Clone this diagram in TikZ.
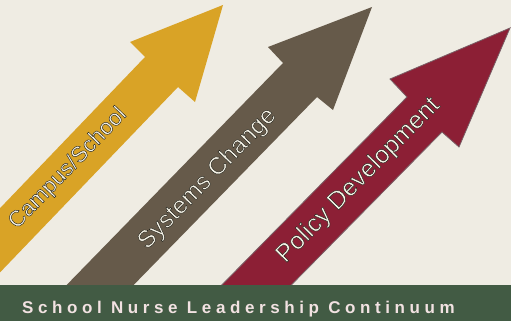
\documentclass[tikz,border=0pt]{standalone}
\usepackage{fontspec}
\setmainfont{Liberation Sans}
\newfontfamily\titlefont[LetterSpace=27]{Liberation Sans Bold}
\definecolor{bg}{HTML}{EFECE3}
\definecolor{gold}{HTML}{D9A326}
\definecolor{brownc}{HTML}{665A4A}
\definecolor{redc}{HTML}{8C1F35}
\definecolor{redline}{HTML}{7A5F66}
\definecolor{band}{HTML}{425B44}
\definecolor{bandtext}{HTML}{F2E2E2}
\definecolor{cream}{HTML}{F7F4E8}
\newcommand\outlined[1]{\special{pdf:literal direct q 2 Tr 0.45 w 0.14 0.14 0.11 RG}#1\special{pdf:literal direct Q}}
\begin{document}
\begin{tikzpicture}[x=1pt,y=-1pt,
  arrowlabel/.style={inner sep=0pt, text=cream, anchor=center},
  titlelabel/.style={inner sep=0pt, text=bandtext, anchor=base west}]
\useasboundingbox (0,0) rectangle (511,321);
\clip (0,0) rectangle (511,321);
\fill[bg] (0,0) rectangle (511,321);
% arrow 1 (gold)
\fill[gold] (223,5) -- (130,42) -- (145,57) -- (-88,300) -- (-26.5,300) -- (178,87) -- (195,102) -- cycle;
% arrow 2 (brown)
\fill[brownc] (372,7) -- (268,47) -- (283,63) -- (52,300) -- (119,300) -- (317,97) -- (333,110) -- cycle;
% arrow 3 (red)
\filldraw[fill=redc, draw=redline, line width=0.8pt] (510,28) -- (390,79) -- (407,97) -- (207,300) -- (276.5,300) -- (442,132) -- (459,147) -- cycle;
% labels
\node[arrowlabel, rotate=46] (campus) at (68,168.5) {\fontsize{22.5}{26}\selectfont\outlined{Campus/School}};
\node[arrowlabel, rotate=45.8] (systems) at (207.5,179) {\fontsize{24.5}{28}\selectfont\outlined{Systems Change}};
\node[arrowlabel, rotate=45.4] (policy) at (358.5,180.5) {\fontsize{25}{29}\selectfont\outlined{Policy Development}};
% bottom band
\fill[band] (0,285) rectangle (511,321);
\node[titlelabel] (title) at (22,313) {\titlefont\fontsize{17}{20}\selectfont School Nurse Leadership Continuum};
\end{tikzpicture}
\end{document}
